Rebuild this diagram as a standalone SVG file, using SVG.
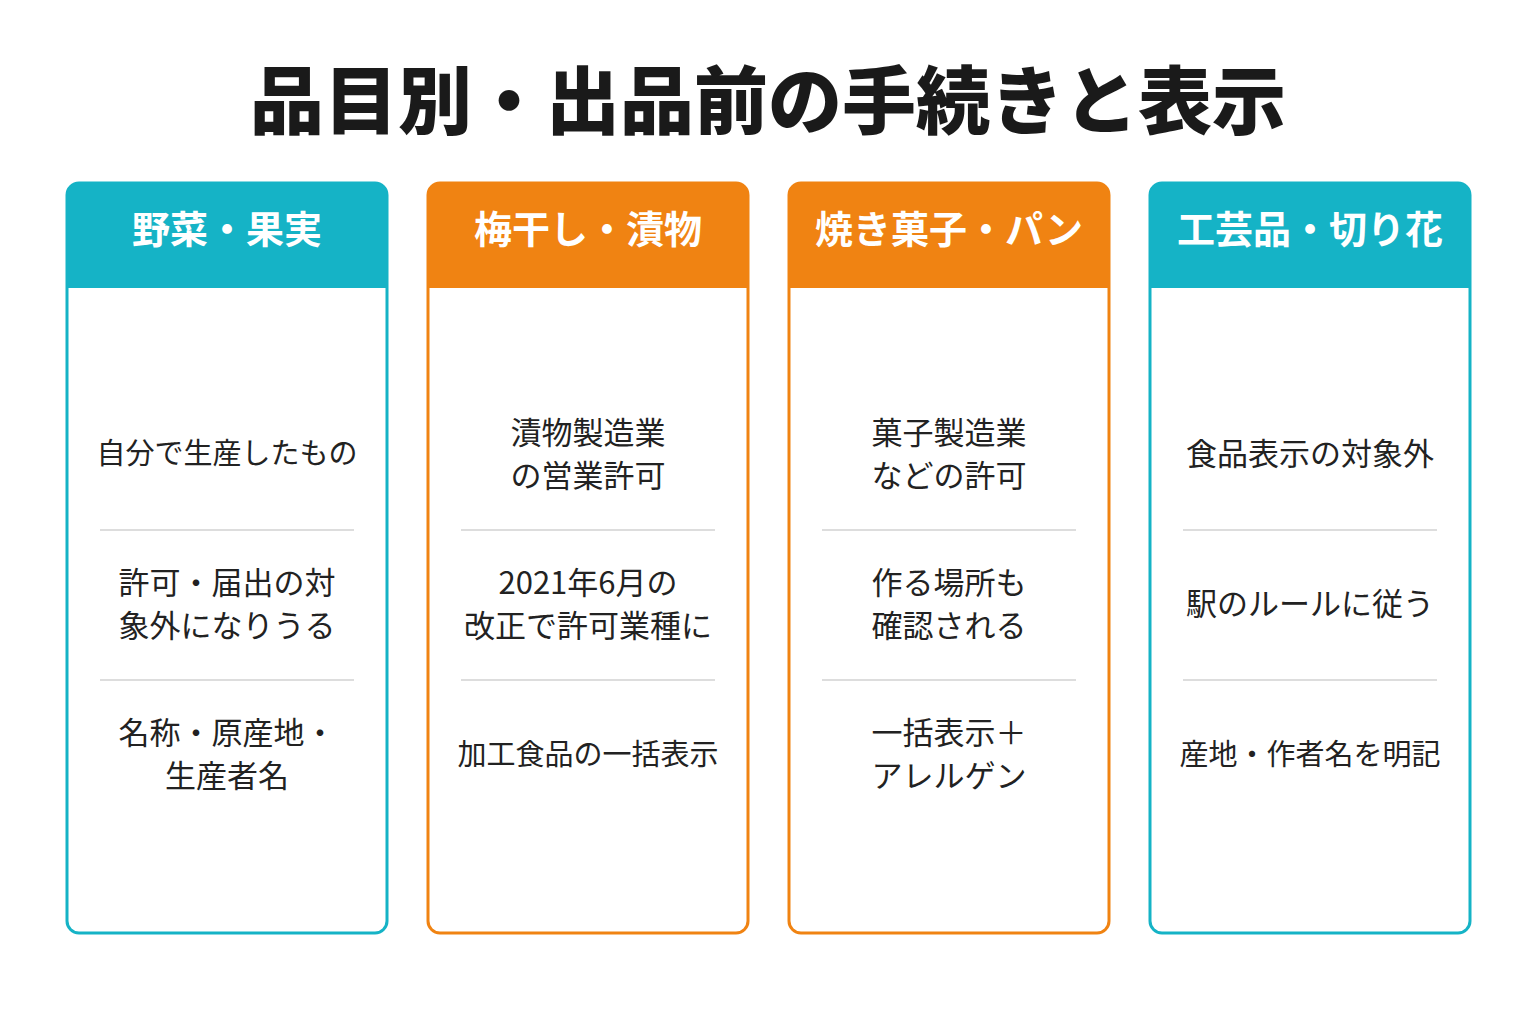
<svg xmlns="http://www.w3.org/2000/svg" width="1536" height="1024" viewBox="0 0 1536 1024">
<style>
text{font-family:"Noto Sans CJK JP","Noto Sans",sans-serif;text-anchor:middle}
.t{font-size:74px;font-weight:900;fill:#1a1a1a}
.h{font-size:38px;font-weight:700;fill:#fff}
.b{font-size:31px;fill:#222}
.s{font-size:29px;fill:#222}
.sep{stroke:#dddddd;stroke-width:2}
.teal{fill:#fff;stroke:#15B3C6;stroke-width:3}
.org{fill:#fff;stroke:#F08312;stroke-width:3}
</style>
<rect width="1536" height="1024" fill="#fff"/>
<text class="t" x="768" y="128">品目別・出品前の手続きと表示</text>

<g id="card1">
<rect class="teal" x="67" y="183" width="320" height="750" rx="12"/>
<path d="M67 195a12 12 0 0 1 12-12h296a12 12 0 0 1 12 12v93H67z" fill="#15B3C6"/>
<text class="h" x="227" y="243">野菜・果実</text>
<text class="s" x="227" y="464">自分で生産したもの</text>
<line class="sep" x1="100" y1="530" x2="354" y2="530"/>
<text class="b" x="227" y="594">許可・届出の対</text>
<text class="b" x="227" y="637">象外になりうる</text>
<line class="sep" x1="100" y1="680" x2="354" y2="680"/>
<text class="b" x="227" y="744">名称・原産地・</text>
<text class="b" x="227" y="787">生産者名</text>
</g>

<g id="card2">
<rect class="org" x="428" y="183" width="320" height="750" rx="12"/>
<path d="M428 195a12 12 0 0 1 12-12h296a12 12 0 0 1 12 12v93H428z" fill="#F08312"/>
<text class="h" x="588" y="243">梅干し・漬物</text>
<text class="b" x="588" y="444">漬物製造業</text>
<text class="b" x="588" y="487">の営業許可</text>
<line class="sep" x1="461" y1="530" x2="715" y2="530"/>
<text class="b" x="588" y="594">2021年6月の</text>
<text class="b" x="588" y="637">改正で許可業種に</text>
<line class="sep" x1="461" y1="680" x2="715" y2="680"/>
<text class="s" x="588" y="765">加工食品の一括表示</text>
</g>

<g id="card3">
<rect class="org" x="789" y="183" width="320" height="750" rx="12"/>
<path d="M789 195a12 12 0 0 1 12-12h296a12 12 0 0 1 12 12v93H789z" fill="#F08312"/>
<text class="h" x="949" y="243">焼き菓子・パン</text>
<text class="b" x="949" y="444">菓子製造業</text>
<text class="b" x="949" y="487">などの許可</text>
<line class="sep" x1="822" y1="530" x2="1076" y2="530"/>
<text class="b" x="949" y="594">作る場所も</text>
<text class="b" x="949" y="637">確認される</text>
<line class="sep" x1="822" y1="680" x2="1076" y2="680"/>
<text class="b" x="949" y="744">一括表示＋</text>
<text class="b" x="949" y="787">アレルゲン</text>
</g>

<g id="card4">
<rect class="teal" x="1150" y="183" width="320" height="750" rx="12"/>
<path d="M1150 195a12 12 0 0 1 12-12h296a12 12 0 0 1 12 12v93H1150z" fill="#15B3C6"/>
<text class="h" x="1310" y="243">工芸品・切り花</text>
<text class="b" x="1310" y="465">食品表示の対象外</text>
<line class="sep" x1="1183" y1="530" x2="1437" y2="530"/>
<text class="b" x="1310" y="615">駅のルールに従う</text>
<line class="sep" x1="1183" y1="680" x2="1437" y2="680"/>
<text class="s" x="1310" y="765">産地・作者名を明記</text>
</g>
<g id="connectors"/>
</svg>
